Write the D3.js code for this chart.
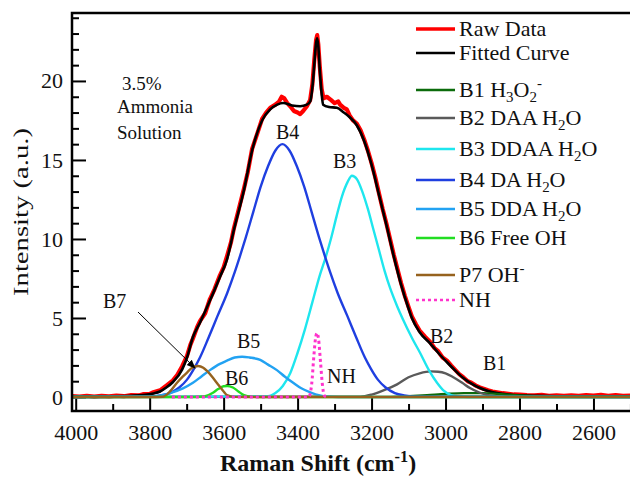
<!DOCTYPE html>
<html>
<head>
<meta charset="utf-8">
<script src="https://cdn.jsdelivr.net/npm/d3@7"></script>
<style>
  html, body { margin: 0; padding: 0; background: #fff; }
  svg { display: block; }
  text { font-family: "Liberation Serif", "Times New Roman", serif; fill: #111; }
</style>
</head>
<body>
<svg id="chart" width="630" height="479"></svg>
<script>
// Raman OH-stretch band fit, 3.5% ammonia solution

// [Raman shift, intensity]
const rawData = [
  [4010,0.06],[3990,0.03],[3970,0.08],[3950,0.02],[3930,0.07],[3910,0.04],[3890,0.09],[3870,0.05],
  [3850,0.12],[3830,0.1],[3818,0.18],[3800,0.2],[3790,0.3],[3772,0.42],[3755,0.72],[3737,1.05],
  [3725,1.4],[3712,1.95],[3699,2.6],[3690,3.3],[3683,3.7],[3672,4.4],[3664,4.8],[3650,5.3],
  [3637,6.2],[3625,6.8],[3610,7.7],[3600,8.2],[3591,8.9],[3580,9.8],[3572,10.7],[3560,11.8],
  [3545,13.2],[3535,14.2],[3523,15.7],[3510,16.6],[3496,17.6],[3485,18.0],[3474,18.3],[3460,18.5],
  [3450,18.7],[3443,19.0],[3436,18.9],[3428,18.6],[3420,18.4],[3410,18.1],[3400,18.0],[3393,17.9],
  [3385,18.1],[3375,18.4],[3366,18.8],[3360,19.8],[3355,21.3],[3350,22.6],[3347,22.9],[3344,22.3],
  [3340,20.9],[3335,19.5],[3330,18.9],[3321,19.0],[3310,18.8],[3300,18.6],[3290,18.7],[3285,18.5],
  [3275,18.3],[3267,18.2],[3259,17.8],[3250,17.5],[3240,17.3],[3230,16.9],[3220,16.3],[3210,15.6],
  [3200,14.8],[3190,13.9],[3180,12.9],[3170,11.9],[3160,11.0],[3150,10.0],[3140,9.0],[3130,8.1],
  [3120,7.2],[3110,6.4],[3100,5.7],[3091,5.1],[3080,4.6],[3070,4.2],[3055,3.8],[3042,3.5],
  [3030,3.1],[3020,2.9],[3008,2.5],[2996,2.3],[2985,2.0],[2975,1.75],[2963,1.45],[2952,1.25],
  [2940,1.0],[2930,0.9],[2918,0.72],[2907,0.6],[2895,0.5],[2885,0.42],[2873,0.35],[2861,0.3],
  [2845,0.24],[2830,0.2],[2815,0.16],[2799,0.15],[2780,0.12],[2760,0.1],[2740,0.13],[2720,0.08],
  [2700,0.1],[2680,0.07],[2660,0.11],[2640,0.08],[2620,0.12],[2600,0.09],[2580,0.13],[2560,0.07],
  [2540,0.12],[2520,0.08],[2495,0.1]
];

const fitted = [
  [4010,0.04],[3950,0.04],[3900,0.05],[3850,0.08],[3818,0.12],[3790,0.22],[3772,0.35],[3755,0.6],
  [3737,0.95],[3712,1.75],[3699,2.5],[3683,3.8],[3664,4.7],[3637,6.1],[3610,7.6],[3591,8.7],
  [3572,10.6],[3545,13.1],[3523,15.6],[3496,17.5],[3474,18.2],[3455,18.5],[3439,18.6],[3415,18.45],
  [3393,18.4],[3375,18.5],[3366,18.7],[3360,19.6],[3355,21.0],[3350,22.4],[3347,22.7],[3344,22.2],
  [3340,20.7],[3335,19.2],[3331,18.5],[3315,18.35],[3294,18.3],[3275,18.0],[3259,17.7],[3240,17.2],
  [3220,16.2],[3200,14.7],[3180,12.8],[3160,10.9],[3140,8.9],[3120,7.1],[3100,5.6],[3091,5.0],
  [3070,4.1],[3042,3.4],[3020,2.8],[2996,2.2],[2975,1.7],[2952,1.2],[2930,0.85],[2907,0.57],
  [2885,0.38],[2861,0.25],[2830,0.15],[2799,0.1],[2750,0.07],[2700,0.05],[2600,0.04],[2495,0.04]
];

const bandB1 = [
  [4010,0],[3150,0],[3100,0.05],[3050,0.12],[3000,0.2],[2950,0.25],[2900,0.24],[2850,0.18],
  [2800,0.1],[2750,0.04],[2700,0.01],[2495,0]
];
const bandB2 = [
  [4010,0],[3230,0.02],[3200,0.15],[3170,0.4],[3131,0.8],[3100,1.25],[3070,1.5],[3040,1.62],
  [3020,1.6],[3000,1.5],[2979,1.25],[2955,0.9],[2934,0.57],[2910,0.3],[2888,0.13],[2860,0.04],
  [2830,0.01],[2495,0]
];
const bandB3 = [
  [4010,0],[3480,0.05],[3460,0.25],[3440,0.7],[3420,1.5],[3400,2.8],[3380,4.3],[3360,6.0],
  [3340,7.7],[3326,8.7],[3310,10.0],[3295,11.4],[3280,12.7],[3265,13.6],[3253,14.0],[3240,13.8],
  [3225,13.0],[3210,11.9],[3195,10.6],[3180,9.3],[3165,8.0],[3150,6.9],[3130,5.7],[3115,4.9],
  [3090,3.7],[3069,2.8],[3045,1.7],[3023,0.9],[3005,0.4],[2985,0.12],[2965,0.03],[2940,0],[2495,0]
];
const bandB4 = [
  [4010,0],[3800,0.03],[3770,0.1],[3745,0.25],[3720,0.6],[3699,1.1],[3680,1.8],[3664,2.5],
  [3640,3.8],[3617,5.1],[3590,6.6],[3570,7.9],[3556,8.9],[3540,10.1],[3520,11.7],[3500,13.3],
  [3480,14.6],[3460,15.6],[3441,16.0],[3422,15.6],[3402,14.6],[3382,13.3],[3362,11.7],[3342,10.1],
  [3326,8.9],[3312,7.9],[3292,6.6],[3265,5.1],[3242,3.8],[3218,2.5],[3202,1.8],[3183,1.1],
  [3162,0.6],[3137,0.25],[3112,0.1],[3082,0.03],[2495,0]
];
const bandB5 = [
  [4010,0],[3800,0.02],[3770,0.1],[3745,0.25],[3710,0.55],[3683,0.9],[3660,1.3],[3637,1.7],
  [3610,2.1],[3591,2.3],[3570,2.5],[3550,2.55],[3530,2.5],[3501,2.35],[3480,2.05],[3456,1.7],
  [3435,1.3],[3412,0.9],[3390,0.55],[3366,0.3],[3340,0.1],[3320,0.03],[3290,0],[2495,0]
];
const bandB6 = [
  [4010,0],[3680,0],[3650,0.05],[3630,0.25],[3615,0.5],[3600,0.68],[3590,0.7],[3575,0.6],
  [3560,0.35],[3545,0.12],[3525,0.02],[3500,0],[2495,0]
];
const bandP7 = [
  [4010,0],[3800,0],[3764,0.02],[3745,0.35],[3726,0.9],[3710,1.3],[3699,1.55],[3685,1.85],
  [3669,1.96],[3655,1.85],[3645,1.65],[3630,1.25],[3617,0.85],[3600,0.35],[3591,0.12],[3570,0.01],
  [3540,0],[2495,0]
];
const bandNH = [
  [3740,0],[3600,0],[3370,0],[3362,0.8],[3356,2.6],[3351,3.8],[3347,4.05],[3343,3.6],
  [3338,2.2],[3333,0.8],[3328,0.1],[3322,0]
];

const xMajor = [4000, 3800, 3600, 3400, 3200, 3000, 2800, 2600];
const xMinor = [3900, 3700, 3500, 3300, 3100, 2900, 2700, 2500];
const yMajor = [0, 5, 10, 15, 20];
const yMinor = [1, 2, 3, 4, 6, 7, 8, 9, 11, 12, 13, 14, 16, 17, 18, 19, 21, 22, 23, 24];

const svg = d3.select('#chart');
const margin = { left: 72, top: 13, right: 632.3, bottom: 411 };

const x = d3.scaleLinear().domain([4010, 2495]).range([margin.left, margin.right]);
const y = d3.scaleLinear().domain([-0.886, 24.3]).range([margin.bottom, margin.top]);

svg.append('rect').attr('width', 630).attr('height', 479).attr('fill', '#fff');

svg.append('clipPath').attr('id', 'plotclip')
  .append('rect')
    .attr('x', margin.left).attr('y', margin.top)
    .attr('width', margin.right - margin.left).attr('height', margin.bottom - margin.top);

// axes: ticks point inward
function styleAxis(g) {
  g.select('.domain').remove();
  g.selectAll('.tick line').attr('stroke', '#000').attr('stroke-width', 2);
  g.selectAll('.tick text').attr('font-size', 22).attr('fill', '#111')
    .attr('font-family', '"Liberation Serif", "Times New Roman", serif');
}

svg.append('g').attr('transform', `translate(0,${margin.bottom})`)
  .call(d3.axisBottom(x).tickValues(xMajor).tickSize(-14).tickPadding(13).tickFormat(d3.format('d')))
  .call(styleAxis);
svg.append('g').attr('transform', `translate(0,${margin.bottom})`)
  .call(d3.axisBottom(x).tickValues(xMinor).tickSize(-7).tickFormat(''))
  .call(styleAxis);
svg.append('g').attr('transform', `translate(${margin.left},0)`)
  .call(d3.axisLeft(y).tickValues(yMajor).tickSize(-14).tickPadding(9))
  .call(styleAxis);
svg.append('g').attr('transform', `translate(${margin.left},0)`)
  .call(d3.axisLeft(y).tickValues(yMinor).tickSize(-7).tickFormat(''))
  .call(styleAxis);

// curves
const plot = svg.append('g').attr('clip-path', 'url(#plotclip)');
const smooth = d3.line().x(d => x(d[0])).y(d => y(d[1])).curve(d3.curveMonotoneX);
const jagged = d3.line().x(d => x(d[0])).y(d => y(d[1]));

const series = [
  { data: rawData, color: '#ff0000', width: 4.2, line: jagged },
  { data: fitted, color: '#000000', width: 2.6, line: smooth },
  { data: bandB1, color: '#0b6b0b', width: 2.2, line: smooth },
  { data: bandB2, color: '#5a5a5a', width: 2.4, line: smooth },
  { data: bandB3, color: '#1ee6ee', width: 2.4, line: smooth },
  { data: bandB4, color: '#1f3fe0', width: 2.4, line: smooth },
  { data: bandB5, color: '#22a2f2', width: 2.4, line: smooth },
  { data: bandB6, color: '#22dd22', width: 2.4, line: smooth },
  { data: bandP7, color: '#96621e', width: 2.4, line: smooth },
  { data: bandNH, color: '#ff33cc', width: 3, line: smooth, dash: '3,3' }
];

plot.selectAll('path.curve')
  .data(series)
  .join('path')
    .attr('class', 'curve')
    .attr('fill', 'none')
    .attr('stroke', d => d.color)
    .attr('stroke-width', d => d.width)
    .attr('stroke-dasharray', d => d.dash || null)
    .attr('stroke-linejoin', 'round')
    .attr('d', d => d.line(d.data));

// frame
svg.append('rect')
  .attr('x', margin.left).attr('y', margin.top)
  .attr('width', margin.right - margin.left).attr('height', margin.bottom - margin.top)
  .attr('fill', 'none').attr('stroke', '#000').attr('stroke-width', 2.5);

// text with sub/superscripts: parts = [[str, 'n'|'sub'|'sup'], ...]
function richText(sel, parts, size) {
  let off = 0;
  parts.forEach(([s, kind]) => {
    const target = kind === 'sub' ? 5 : kind === 'sup' ? -9 : 0;
    sel.append('tspan')
      .attr('dy', target - off)
      .attr('font-size', kind === 'n' ? size : size * 0.68)
      .text(s);
    off = target;
  });
  return sel;
}

// legend
const legendItems = [
  { color: '#ff0000', ly: 29, parts: [['Raw Data', 'n']] },
  { color: '#000000', ly: 53, parts: [['Fitted Curve', 'n']] },
  { color: '#0b6b0b', ly: 90, parts: [['B1 H', 'n'], ['3', 'sub'], ['O', 'n'], ['2', 'sub'], ['-', 'sup']] },
  { color: '#5a5a5a', ly: 118, parts: [['B2 DAA H', 'n'], ['2', 'sub'], ['O', 'n']] },
  { color: '#1ee6ee', ly: 149, parts: [['B3 DDAA H', 'n'], ['2', 'sub'], ['O', 'n']] },
  { color: '#1f3fe0', ly: 180, parts: [['B4 DA H', 'n'], ['2', 'sub'], ['O', 'n']] },
  { color: '#22a2f2', ly: 209, parts: [['B5 DDA H', 'n'], ['2', 'sub'], ['O', 'n']] },
  { color: '#22dd22', ly: 238, parts: [['B6 Free OH', 'n']] },
  { color: '#96621e', ly: 275, parts: [['P7 OH', 'n'], ['-', 'sup']] },
  { color: '#ff33cc', ly: 300, parts: [['NH', 'n']], dash: '3,3' }
];

const legend = svg.append('g');
legendItems.forEach(it => {
  legend.append('line')
    .attr('x1', 416).attr('x2', 455).attr('y1', it.ly).attr('y2', it.ly)
    .attr('stroke', it.color).attr('stroke-width', it.color === '#ff0000' ? 3.5 : 2.6)
    .attr('stroke-dasharray', it.dash || null);
  richText(legend.append('text').attr('x', 459).attr('y', it.ly + 7).attr('font-size', 22), it.parts, 22);
});

// annotations
const notes = svg.append('g').attr('font-size', 19);
notes.append('text').attr('x', 122).attr('y', 90).text('3.5%');
notes.append('text').attr('x', 117).attr('y', 113).text('Ammonia');
notes.append('text').attr('x', 117).attr('y', 139).text('Solution');

const bandLabels = [
  { t: 'B4', x: 276, y: 139 },
  { t: 'B3', x: 333, y: 168 },
  { t: 'B2', x: 430, y: 343 },
  { t: 'B1', x: 483, y: 370 },
  { t: 'B5', x: 237, y: 348 },
  { t: 'B6', x: 225, y: 385 },
  { t: 'NH', x: 327, y: 383 },
  { t: 'B7', x: 103, y: 308 }
];
svg.append('g').attr('font-size', 20)
  .selectAll('text').data(bandLabels).join('text')
    .attr('x', d => d.x).attr('y', d => d.y).text(d => d.t);

// B7 pointer
svg.append('defs').append('marker')
  .attr('id', 'arrow').attr('viewBox', '0 0 10 10').attr('refX', 9).attr('refY', 5)
  .attr('markerWidth', 9).attr('markerHeight', 9).attr('orient', 'auto')
  .append('path').attr('d', 'M0,1 L10,5 L0,9 Z').attr('fill', '#000');
svg.append('line')
  .attr('x1', 138).attr('y1', 312).attr('x2', 195).attr('y2', 368)
  .attr('stroke', '#000').attr('stroke-width', 1).attr('marker-end', 'url(#arrow)');

// axis titles
svg.append('text')
  .attr('transform', 'translate(28,212) rotate(-90)')
  .attr('text-anchor', 'middle').attr('font-size', 21)
  .attr('textLength', 168).attr('lengthAdjust', 'spacingAndGlyphs')
  .text('Intensity (a.u.)');

const xt = svg.append('text')
  .attr('x', 318).attr('y', 471).attr('text-anchor', 'middle')
  .attr('font-size', 24).attr('font-weight', 'bold');
richText(xt, [['Raman Shift (cm', 'n'], ['-1', 'sup'], [')', 'n']], 24);
</script>
</body>
</html>
